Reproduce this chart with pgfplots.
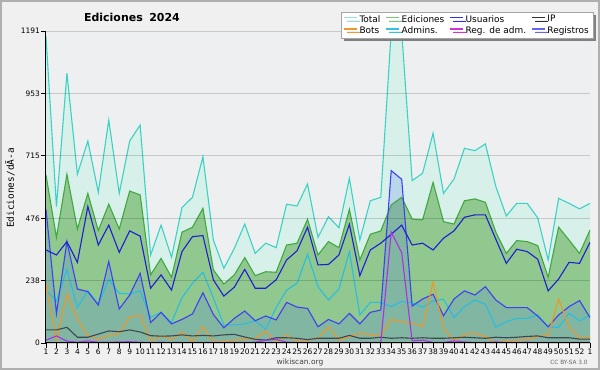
\documentclass[border=0pt]{standalone}
\usepackage{fontspec}
\setmainfont{DejaVu Sans}
\newfontfamily\monofont{DejaVu Sans Mono}
\usepackage{pgfplots}
\pgfplotsset{compat=1.18}
\usepackage{pgfplotstable}
\usetikzlibrary{shadows}

\definecolor{bgouter}{RGB}{240,240,240}
\definecolor{plotbg}{RGB}{238,239,241}
\definecolor{bordercol}{RGB}{175,175,175}
\definecolor{totline}{RGB}{60,210,195}
\definecolor{totfill}{RGB}{216,240,234}
\definecolor{ediline}{RGB}{64,168,64}
\definecolor{edifill}{RGB}{144,200,144}
\definecolor{usuline}{RGB}{30,30,210}
\definecolor{regline}{RGB}{64,64,240}
\definecolor{regfill}{RGB}{70,110,235}
\definecolor{admline}{RGB}{40,190,225}
\definecolor{botline}{RGB}{240,150,40}
\definecolor{ipline}{RGB}{64,70,80}
\definecolor{regaline}{RGB}{170,50,230}
\definecolor{lgtot}{RGB}{150,225,215}
\definecolor{lgedi}{RGB}{120,200,120}
\definecolor{lgusu}{RGB}{50,50,220}
\definecolor{lgip}{RGB}{50,50,50}
\definecolor{lgbot}{RGB}{245,150,40}
\definecolor{lgadm}{RGB}{50,195,225}
\definecolor{lgrega}{RGB}{210,50,220}
\definecolor{lgreg}{RGB}{100,100,240}

\pgfplotstableread{
x tot edi usu ip bot adm rega reg
0 1170 641 355 50 225 202 11 510
1 521 403 336 50 11 160 27 113
2 1030 644 387 60 186 281 7 387
3 644 435 308 22 92 135 3 206
4 771 571 521 22 28 200 8 196
5 575 429 374 34 15 148 3 145
6 851 530 450 46 28 243 3 311
7 571 435 346 43 37 190 4 130
8 771 580 428 50 99 187 5 183
9 832 565 408 42 106 199 3 266
10 336 260 209 28 8 98 2 78
11 450 323 260 26 27 117 3 117
12 327 251 202 27 14 78 2 73
13 517 423 349 31 41 173 2 90
14 556 442 406 27 5 228 2 111
15 711 514 410 29 62 270 2 192
16 393 279 241 27 4 171 2 109
17 285 225 179 31 5 69 2 58
18 361 260 213 33 11 69 2 94
19 454 326 281 23 14 73 2 122
20 342 257 209 14 18 85 3 85
21 381 272 209 11 46 52 10 103
22 364 270 241 20 0 135 14 88
23 530 374 317 20 31 202 3 155
24 523 381 352 18 4 228 2 137
25 607 472 442 13 11 339 2 132
26 403 336 298 18 18 215 2 62
27 482 387 300 18 62 164 2 90
28 440 364 336 18 11 206 2 73
29 629 510 453 29 24 349 2 113
30 393 317 257 18 37 107 2 73
31 543 415 355 18 31 155 2 117
32 556 428 381 22 27 155 2 126
33 1191 527 415 18 90 139 423 658
34 1188 556 450 20 81 158 345 625
35 620 473 374 18 76 154 8 141
36 648 470 381 20 62 136 11 168
37 801 613 355 18 232 160 2 186
38 571 463 400 18 56 167 2 104
39 626 454 428 20 8 97 8 168
40 743 543 480 22 33 139 4 199
41 734 550 489 20 37 164 2 183
42 760 537 489 18 24 148 2 215
43 597 423 396 22 0 60 4 164
44 485 342 304 20 8 81 2 135
45 533 391 358 22 10 94 2 135
46 533 387 349 25 14 94 3 135
47 478 372 320 27 24 107 2 103
48 317 251 199 20 31 60 2 62
49 552 442 244 20 168 60 2 107
50 533 393 308 20 62 113 2 139
51 512 342 304 15 18 84 2 162
52 533 431 384 15 22 107 2 97
}\data

\begin{document}
\begin{tikzpicture}
\useasboundingbox (0bp,0bp) rectangle (600bp,370bp);
\fill[bgouter] (0bp,0bp) rectangle (600bp,370bp);
\draw[bordercol, line width=2bp] (1bp,1bp) rectangle (599bp,369bp);
\begin{axis}[
  scale only axis, width=544bp, height=312bp,
  at={(46bp,27bp)}, anchor=south west,
  xmin=0, xmax=52, ymin=0, ymax=1191,
  axis lines*=left,
  axis line style={black, line width=1bp},
  axis background/.style={fill=plotbg},
  xtick={0,...,52},
  xticklabels={1,2,3,4,5,6,7,8,9,10,11,12,13,14,15,16,17,18,19,20,21,22,23,24,25,26,27,28,29,30,31,32,33,34,35,36,37,38,39,40,41,42,43,44,45,46,47,48,49,50,51,52,1},
  ytick={0,238,476,715,953,1191},
  yticklabels={0,238,476,715,953,1191},
  minor y tick num=3,
  ymajorgrids,
  major grid style={black, opacity=0.16, line width=0.8bp},
  tick align=outside,
  major tick length=5bp, minor tick length=3bp,
  tick style={black, line width=0.6bp},
  tick label style={font=\fontsize{7.5}{9}\selectfont},
  yticklabel style={inner sep=1bp},
  xticklabel style={inner sep=1bp},
  axis on top,
  legend columns=4,
  legend cell align=left,
  legend image code/.code={\draw[#1, line width=1.3bp] (0bp,0.3ex) -- (13bp,0.3ex);},
  legend style={at={(1,1)}, anchor=north east, xshift=3bp, yshift=19bp,
    draw=black!35, fill=white, font=\fontsize{9}{9}\selectfont,
    inner xsep=2bp, inner ysep=1bp, row sep=-1bp,
    drop shadow={shadow xshift=3bp, shadow yshift=-3bp, fill=black!50, opacity=1},
    /tikz/every even column/.append style={column sep=3bp}},
]
\addlegendimage{lgtot}\addlegendentry{Total}
\addlegendimage{lgedi}\addlegendentry{Ediciones}
\addlegendimage{lgusu}\addlegendentry{Usuarios}
\addlegendimage{lgip}\addlegendentry{IP}
\addlegendimage{lgbot}\addlegendentry{Bots}
\addlegendimage{lgadm}\addlegendentry{Admins.}
\addlegendimage{lgrega}\addlegendentry{Reg. de adm.}
\addlegendimage{lgreg}\addlegendentry{Registros}

\addplot[fill=totfill, draw=none, forget plot] table[x=x,y=tot]{\data} \closedcycle;
\addplot[fill=edifill, draw=none, forget plot] table[x=x,y=edi]{\data} \closedcycle;
\addplot[fill=regfill, fill opacity=0.2, draw=none, forget plot] table[x=x,y=reg]{\data} \closedcycle;

\addplot[totline, line width=1.1bp, forget plot] table[x=x,y=tot]{\data};
\addplot[ediline, line width=1.1bp, forget plot] table[x=x,y=edi]{\data};
\addplot[admline, line width=1.1bp, forget plot] table[x=x,y=adm]{\data};
\addplot[regline, line width=1.1bp, forget plot] table[x=x,y=reg]{\data};
\addplot[usuline, line width=1.1bp, forget plot] table[x=x,y=usu]{\data};
\addplot[botline, line width=1.1bp, forget plot] table[x=x,y=bot]{\data};
\addplot[ipline, line width=1.1bp, forget plot] table[x=x,y=ip]{\data};
\addplot[regaline, line width=1.1bp, forget plot] table[x=x,y=rega]{\data};
\end{axis}
\node[font=\bfseries\fontsize{11}{13}\selectfont] at (132bp,353bp) {Ediciones\hspace{0.6em}2024};
\node[rotate=90, font=\monofont\fontsize{9.5}{11}\selectfont] at (10bp,182bp) {Ediciones/dÃ-a};
\node[font=\fontsize{7.5}{9}\selectfont, text=black!75] at (300bp,8bp) {wikiscan.org};
\node[font=\fontsize{5.8}{7}\selectfont, text=black!60] at (569bp,8bp) {CC BY-SA 3.0};
\end{tikzpicture}
\end{document}
